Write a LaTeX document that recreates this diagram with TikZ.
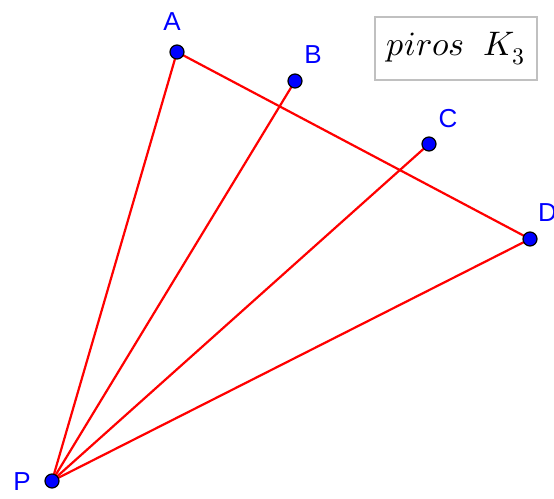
\documentclass[tikz,border=0pt]{standalone}
\usepackage{fontspec}
\setmainfont{Liberation Sans}
\usepackage{unicode-math}
\setmathfont{Latin Modern Math}
\begin{document}
\begin{tikzpicture}[x=1pt,y=-1pt,
  pt/.style={circle,fill=blue,draw=black,line width=1.2pt,inner sep=0pt,minimum size=14pt},
  lbl/.style={text=blue,font=\fontsize{26}{26}\selectfont,inner sep=0pt},
  seg/.style={red,line width=2.2pt}]
\useasboundingbox (0,0) rectangle (554,498);
\coordinate (A) at (177,52);
\coordinate (B) at (295,81);
\coordinate (C) at (429,144);
\coordinate (D) at (530,239);
\coordinate (P) at (52,481);
\draw[seg] (P) -- (A);
\draw[seg] (P) -- (B);
\draw[seg] (P) -- (C);
\draw[seg] (P) -- (D);
\draw[seg] (A) -- (D);
\node[pt] (nA) at (A) {};
\node[pt] (nB) at (B) {};
\node[pt] (nC) at (C) {};
\node[pt] (nD) at (D) {};
\node[pt] (nP) at (P) {};
\node[lbl] (lA) at (172,22) {A};
\node[lbl] (lB) at (313,55) {B};
\node[lbl] (lC) at (448,119) {C};
\node[lbl,anchor=west] (lD) at (538,213) {D};
\node[lbl] (lP) at (22,482) {P};
\node[draw={rgb,255:red,192;green,192;blue,192},line width=1.6pt,minimum width=162pt,minimum height=63pt,inner sep=0pt,font=\fontsize{34}{34}\selectfont] (box) at (456,48.5) {$piros\ \ K_3$};
\end{tikzpicture}
\end{document}
